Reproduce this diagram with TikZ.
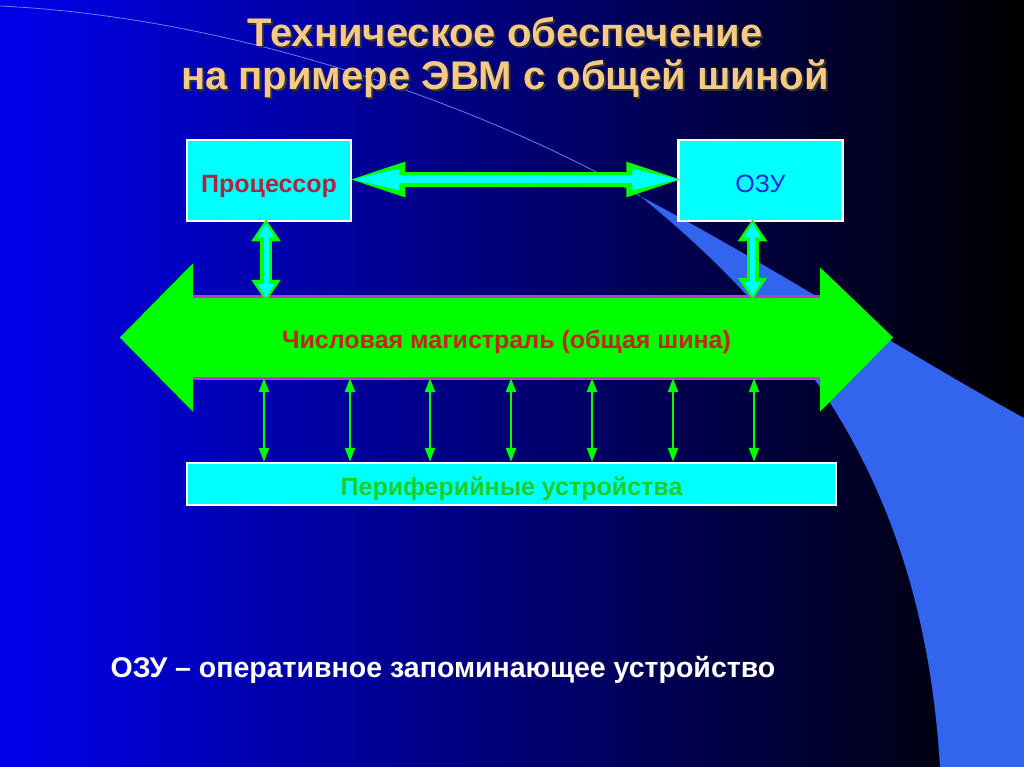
\documentclass[tikz,border=0pt]{standalone}
\usepackage{fontspec}
\setmainfont{Liberation Sans}
\usetikzlibrary{positioning, arrows.meta, calc}

\definecolor{slideblue}{RGB}{0,0,235}
\definecolor{slidenavy}{RGB}{0,0,165}
\definecolor{swooshblue}{RGB}{50,100,238}
\definecolor{titlegold}{RGB}{246,202,132}
\definecolor{busgreen}{RGB}{0,255,0}
\definecolor{boxcyan}{RGB}{0,255,255}
\definecolor{procred}{RGB}{170,40,60}
\definecolor{ozublue}{RGB}{20,40,220}
\definecolor{buspink}{RGB}{200,50,210}
\definecolor{perigreen}{RGB}{30,205,40}
\definecolor{buslabel}{RGB}{190,40,30}

\begin{document}
\begin{tikzpicture}[
    x=1pt, y=-1pt,
    unitbox/.style={draw=white, line width=2.5pt, fill=boxcyan, minimum width=164pt, minimum height=81pt, inner sep=0pt, text height=25pt, text depth=0pt},
    periphbox/.style={draw=white, line width=2.5pt, fill=boxcyan, minimum width=649pt, minimum height=42pt, inner sep=0pt, text height=22pt, text depth=0pt, font=\bfseries\fontsize{25}{28}\selectfont, text=perigreen},
    busbox/.style={fill=busgreen, minimum width=627pt, minimum height=81pt, inner sep=0pt, text height=21pt, text depth=0pt, font=\bfseries\fontsize{25}{28}\selectfont, text=buslabel},
    fatouter/.style={draw=busgreen, line width=15pt, {Triangle[length=62pt, width=30pt]}-{Triangle[length=62pt, width=30pt]}},
    fatinner/.style={draw=boxcyan, line width=8pt, {Triangle[length=50pt, width=19pt]}-{Triangle[length=50pt, width=19pt]}, shorten <=6pt, shorten >=6pt},
    stubouter/.style={draw=busgreen, line width=12pt, {Triangle[length=22pt, width=28pt]}-{Triangle[length=22pt, width=28pt]}},
    stubinner/.style={draw=boxcyan, line width=5pt, {Triangle[length=14pt, width=16pt]}-{Triangle[length=14pt, width=16pt]}, shorten <=4pt, shorten >=4pt},
    thinarrow/.style={draw=busgreen, line width=2.5pt, {Triangle[length=14pt, width=10pt]}-{Triangle[length=14pt, width=10pt]}},
    titletext/.style={font=\bfseries\fontsize{40}{43}\selectfont, align=center}
]

    % ================= BACKGROUND =================
    \useasboundingbox (0,0) rectangle (1024,767);
    \shade[left color=slideblue, middle color=slidenavy, right color=black] (0,0) rectangle (1024,767);
    \draw[swooshblue!80!white, line width=0.8pt] (0,6) .. controls (250,18) and (500,115) .. (640,196);
    \fill[swooshblue] (640,196) .. controls (780,270) and (900,350) .. (1024,418)
        -- (1024,767) -- (940,767) .. controls (925,520) and (830,350) .. cycle;

    % ================= TITLE =================
    \node[titletext, text=black!80] (titleshadow) at (507,59) {Техническое обеспечение\\на примере ЭВМ с общей шиной};
    \node[titletext, text=titlegold] (title) at (505,57) {Техническое обеспечение\\на примере ЭВМ с общей шиной};

    % ================= UNITS =================
    \node[unitbox, text=procred, font=\bfseries\fontsize{25}{28}\selectfont] (proc) at (269,180.5) {Процессор};
    \node[unitbox, text=ozublue, font=\fontsize{25}{28}\selectfont] (ozu) at (760.5,180.5) {ОЗУ};

    % System bus (shaft with two heads)
    \node[busbox] (bus) at (506.5,337.5) {Числовая магистраль (общая шина)};
    \fill[busgreen] ($(bus.west)+(0,-74)$) -- ($(bus.west)+(-73,0)$) -- ($(bus.west)+(0,74)$) -- cycle;
    \fill[busgreen] ($(bus.east)+(0,-70)$) -- ($(bus.east)+(73,0)$) -- ($(bus.east)+(0,74)$) -- cycle;
    \draw[buspink, line width=3pt] (bus.north west) -- (bus.north east);
    \draw[buspink, line width=3pt] (bus.south west) -- (bus.south east);

    \node[periphbox] (periph) at (511.5,484) {Периферийные устройства};

    % ================= CONNECTIONS =================
    \draw[fatouter] ($(proc.east)+(-9,-1)$) -- ($(ozu.west)+(11,-1)$);
    \draw[fatinner] ($(proc.east)+(-9,-1)$) -- ($(ozu.west)+(11,-1)$);

    \draw[stubouter] ($(proc.south)+(-3,-3)$) -- ($(proc.south |- bus.north)+(-3,5)$);
    \draw[stubinner] ($(proc.south)+(-3,-3)$) -- ($(proc.south |- bus.north)+(-3,5)$);
    \draw[stubouter] ($(ozu.south)+(-8,-3)$) -- ($(ozu.south |- bus.north)+(-8,3)$);
    \draw[stubinner] ($(ozu.south)+(-8,-3)$) -- ($(ozu.south |- bus.north)+(-8,3)$);

    \foreach \x in {264,350,430,511,592,673,754}
        \draw[thinarrow] (\x,0 |- bus.south) -- (\x,0 |- periph.north);

    % ================= FOOTNOTE =================
    \node[font=\bfseries\fontsize{28.5}{32}\selectfont, text=white] (legend) at (443,670) {ОЗУ – оперативное запоминающее устройство};

\end{tikzpicture}
\end{document}
